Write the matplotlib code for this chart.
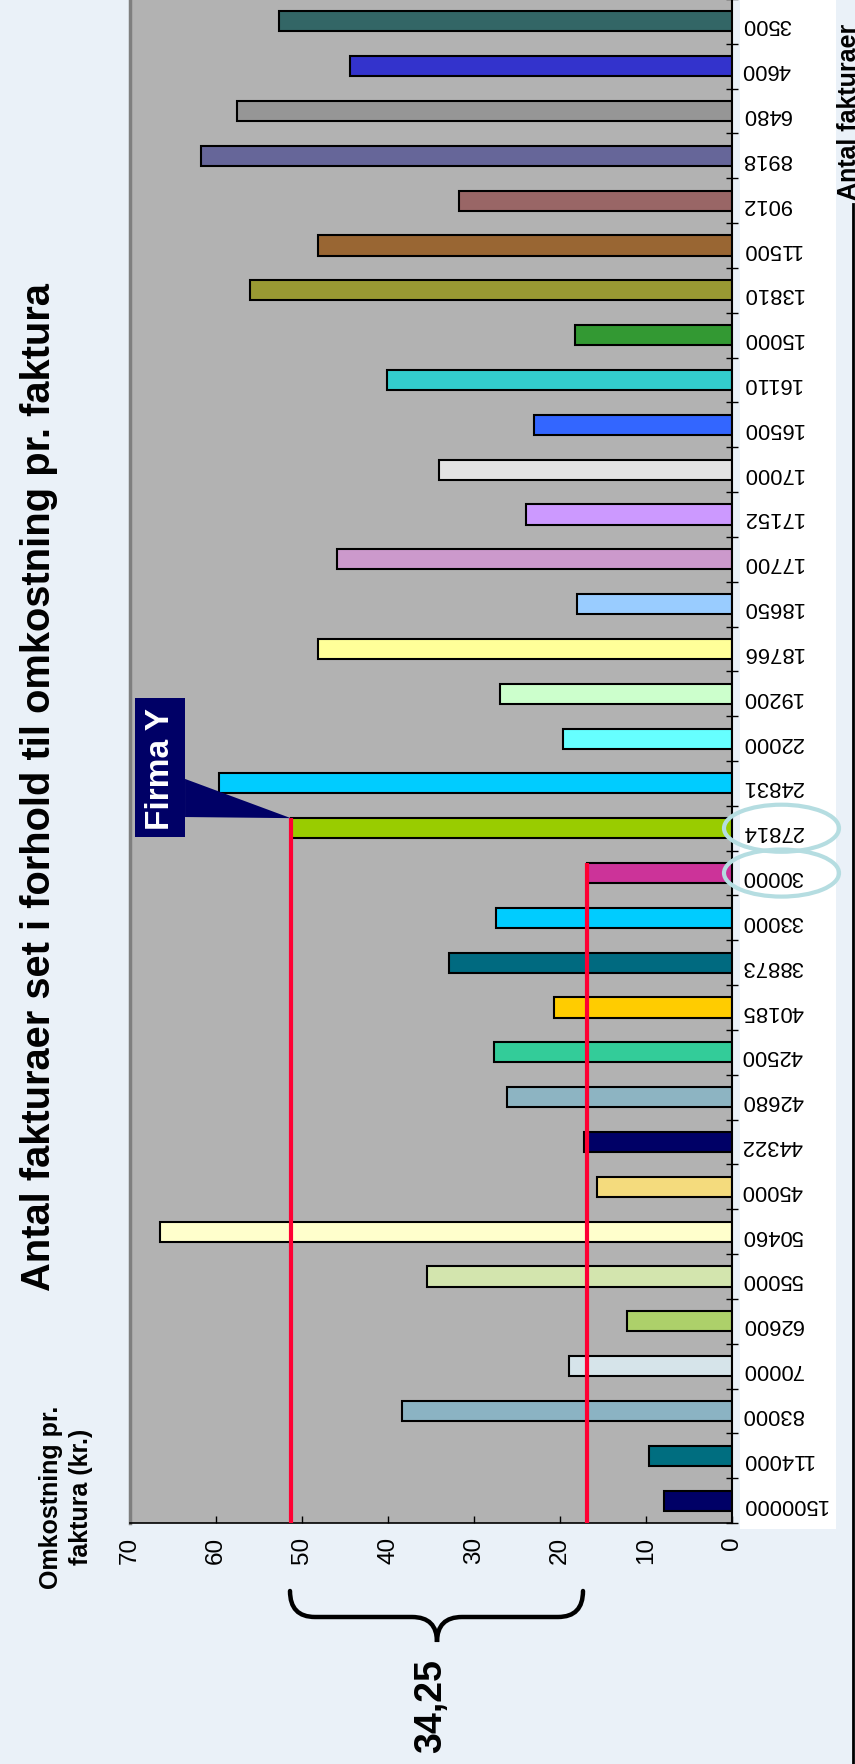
import matplotlib
matplotlib.use("Agg")
from matplotlib import pyplot as plt
from matplotlib import transforms
from matplotlib.patches import Rectangle, Ellipse, Polygon, PathPatch
from matplotlib.path import Path
import numpy as np

plt.rcParams['font.family'] = ['Liberation Sans', 'DejaVu Sans']

# categories listed top to bottom as they appear on the page
categories = ['3500', '4600', '6480', '8918', '9012', '11500', '13810', '15000',
              '16110', '16500', '17000', '17152', '17700', '18650', '18766', '19200',
              '22000', '24831', '27814', '30000', '33000', '38873', '40185', '42500',
              '42680', '44322', '45000', '50460', '55000', '62600', '70000', '83000',
              '114000', '1500000']
values = [52.7, 44.4, 57.6, 61.7, 31.7, 48.1, 56.1, 18.3,
          40.1, 23.0, 34.1, 23.9, 45.9, 18.0, 48.1, 27.0,
          19.7, 59.6, 51.3, 16.9, 27.4, 32.9, 20.7, 27.7,
          26.2, 17.2, 15.7, 66.5, 35.5, 12.2, 19.0, 38.4,
          9.6, 7.9]
colors = ['#336666', '#3333CC', '#969696', '#666699', '#996666', '#996633', '#999933', '#339933',
          '#33CCCC', '#3366FF', '#E3E3E3', '#CC99FF', '#CC99CC', '#99CCFF', '#FFFF99', '#CCFFCC',
          '#66FFFF', '#00CCFF', '#99CC00', '#CC3399', '#00CCFF', '#006A80', '#FFCC00', '#33CC99',
          '#8DB4C2', '#000066', '#F4DB7D', '#FFFFCC', '#D3E5AE', '#ADD06A', '#D6E4EA', '#8BB3C3',
          '#006E80', '#000066']
highlight = ['27814', '30000']
diff_label = '34,25'

W, H = 855, 1765
bg = '#EAF1F8'

def fx(px):
    return px / W

def fy(py):
    return 1 - py / H

fig = plt.figure(figsize=(8.55, 17.65), dpi=100, facecolor=bg)

# white strip behind the category labels
fig.patches.append(Rectangle((fx(740), fy(1530)), fx(836) - fx(740), 1 - fy(1530),
                             transform=fig.transFigure, facecolor='white', edgecolor='none', zorder=-1))

ax = fig.add_axes([fx(130), fy(1524), fx(732) - fx(130), 1 - fy(1524)])
ax.set_facecolor('#B2B2B2')

n = len(categories)
pos = np.arange(n)
bh = 0.45
ax.barh(pos, values, height=bh, color=colors, edgecolor='black', linewidth=1.5, zorder=2)

ax.set_xlim(70, 0)
ax.set_ylim(n - 0.5, -0.5)

ax.set_xticks(np.arange(0, 71, 10))
ax.tick_params(axis='x', direction='in', length=5, width=1, labelsize=17.5, labelrotation=90, pad=9)

ax.yaxis.tick_right()
ax.set_yticks(pos)
ax.set_yticklabels(categories, rotation=180, fontsize=15.8)
ax.tick_params(axis='y', which='major', length=0, pad=7)
ax.set_yticks(np.arange(n + 1) - 0.5, minor=True)
ax.tick_params(axis='y', which='minor', direction='inout', length=8, width=1)

ax.spines['top'].set_visible(False)
ax.spines['left'].set_color('#7F7F7F')
ax.spines['left'].set_linewidth(2.5)
ax.spines['bottom'].set_linewidth(1.2)
ax.spines['right'].set_linewidth(1.5)

# red reference lines from the two highlighted bars down to the value axis
for cat in highlight:
    i = categories.index(cat)
    v = values[i]
    ax.plot([v, v], [i - bh / 2, n - 0.5], color='#FF0033', lw=3,
            solid_capstyle='butt', zorder=3, clip_on=False)

# "Firma Y" callout
iy = categories.index('27814')
ax.add_patch(Rectangle((69.4, 15.1), -5.8, 3.1, facecolor='#000066', edgecolor='none', zorder=4))
ax.add_patch(Polygon([(63.6, 16.9), (63.6, 17.75), (values[iy], iy - bh / 2)],
                     closed=True, facecolor='#000066', edgecolor='none', zorder=4))
ax.text(66.5, 16.65, 'Firma Y', rotation=90, color='white', fontsize=24, fontweight='bold',
        ha='center', va='center', zorder=5)

# ellipses round the highlighted labels
blend = transforms.blended_transform_factory(fig.transFigure, ax.transData)
for cat in highlight:
    i = categories.index(cat)
    fig.patches.append(Ellipse((fx(781.5), i), fx(115), 1.05, transform=blend,
                               fill=False, edgecolor='#B5DDE1', lw=3, zorder=5))

# texts
fig.text(fx(39), fy(787), 'Antal fakturaer set i forhold til omkostning pr. faktura',
         rotation=90, fontsize=28.7, fontweight='bold', ha='center', va='center')
fig.text(fx(66), fy(1497), 'Omkostning pr.\nfaktura (kr.)', rotation=90, fontsize=18,
         fontweight='bold', ha='center', va='center', multialignment='center', linespacing=1.3)
fig.text(fx(837), fy(200), 'Antal fakturaer', rotation=90, fontsize=18, fontweight='bold',
         ha='left', va='bottom')

# right border of the chart area
fig.add_artist(plt.Line2D([fx(853), fx(853)], [fy(205), 0], transform=fig.transFigure,
                          color='black', lw=2))

# brace under the axis
verts = [(290, 1592), (290, 1618), (315, 1618), (412, 1618), (437, 1618), (437, 1643),
         (437, 1618), (462, 1618), (558, 1618), (583, 1618), (583, 1592)]
codes = [Path.MOVETO, Path.CURVE3, Path.CURVE3, Path.LINETO, Path.CURVE3, Path.CURVE3,
         Path.CURVE3, Path.CURVE3, Path.LINETO, Path.CURVE3, Path.CURVE3]
brace = Path([(fx(x), fy(y)) for x, y in verts], codes)
fig.patches.append(PathPatch(brace, transform=fig.transFigure, fill=False, lw=3.2,
                             edgecolor='black', capstyle='round'))
fig.text(fx(431), fy(1706), diff_label, rotation=90, fontsize=27, fontweight='bold',
         ha='center', va='center')

fig.savefig('out.png', dpi=100, facecolor=bg)
